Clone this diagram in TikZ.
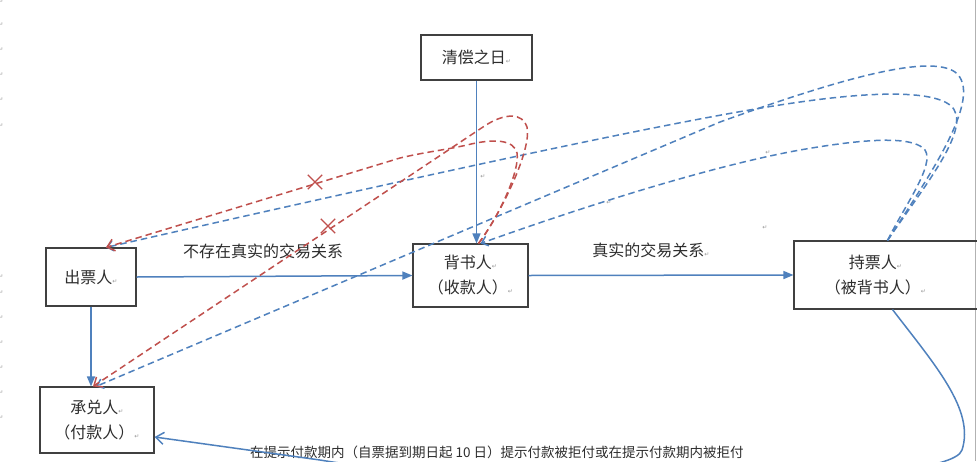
\documentclass[tikz,border=0pt]{standalone}
\usepackage{fontspec}
\setmainfont{Noto Sans CJK SC}
\newfontfamily\dvfont{DejaVu Sans}
\usetikzlibrary{arrows.meta,shapes.misc}
\definecolor{wblue}{RGB}{79,129,189}
\definecolor{wred}{RGB}{192,80,77}
\definecolor{pmgray}{RGB}{150,150,150}
\definecolor{txtgray}{RGB}{45,45,45}
\newcommand{\retmark}{{\dvfont\fontsize{6}{6}\selectfont\color{pmgray}↵}}
\begin{document}
\begin{tikzpicture}[x=1pt,y=-1pt,
  box/.style={draw=black!75, line width=1.1pt, inner sep=0pt, align=center,
    font=\fontsize{16}{25}\selectfont, text=txtgray},
  lbl/.style={font=\fontsize{16}{18}\selectfont, text=txtgray, inner sep=0pt},
  pm/.style={inner sep=0pt, font=\dvfont\fontsize{6}{6}\selectfont, text=pmgray},
  solidarrow/.style={draw=wblue, line width=1.5pt, -{Triangle[length=10pt,width=8pt]}},
  openarrow/.style={draw=wblue, line width=1.5pt, -{Straight Barb[length=8pt,width=12pt]}},
  dashblue/.style={draw=wblue, line width=1.5pt, dash pattern=on 6.5pt off 4pt,
    -{Straight Barb[length=6pt,width=10pt]}},
  dashred/.style={draw=wred, line width=1.5pt, dash pattern=on 6.5pt off 4pt,
    -{Straight Barb[length=7pt,width=12pt]}},
  xmark/.style={draw=wred, cross out, line width=1.3pt, minimum size=13pt, inner sep=0pt}
]
\useasboundingbox (0,0) rectangle (977,461);
\clip (0,0) rectangle (977,461);
\fill[white] (0,0) rectangle (977,461);

% page edge
\draw[black!30, line width=0.8pt] (975,0) -- (975,461);

% boxes
\node[box, minimum width=111pt, minimum height=45pt] (qc) at (476.5,57.5) {清偿之日\retmark};
\node[box, minimum width=90pt, minimum height=58pt] (cp) at (91,277) {出票人\retmark};
\node[box, minimum width=115pt, minimum height=63pt] (bs) at (470.5,275.5) {背书人\retmark\\（收款人）\retmark};
\node[box, minimum width=114pt, minimum height=66pt] (cd) at (97,420) {承兑人\retmark\\（付款人）\retmark};
\node[box, minimum width=191pt, minimum height=68pt, text width=160pt] (cpr) at (889.5,275) {\hspace*{-28pt}持票人\retmark\\\hspace*{-28pt}（被背书人）\retmark};

% labels
\node[lbl] (l1) at (263,251) {不存在真实的交易关系};
\node[lbl] (l2) at (651,250) {真实的交易关系\retmark};
\node[inner sep=0pt, anchor=west, font=\fontsize{13.5}{15}\selectfont, text=txtgray] (bt) at (250,452)
  {在提示付款期内（自票据到期日起 10 日）提示付款被拒付或在提示付款期内被拒付};

% stray paragraph marks
\node[pm] (p1) at (483,177) {↵};
\node[pm] (p2) at (609,203) {↵};
\node[pm] (p3) at (768,153) {↵};
\node[pm] (p4) at (765,228) {↵};
\foreach \yy in {2,25,50,75,100,126,277,293,318,343,368,393,418}
  \node[pm] at (1,\yy) {↵};

% solid connectors
\draw[solidarrow] (qc.south) -- (qc.south |- bs.north);
\draw[solidarrow] (cp.east) -- (bs.west);
\draw[solidarrow] (bs.east) -- (cpr.west);
\draw[solidarrow] (cp.south) -- (cp.south |- cd.north);
\draw[openarrow] ([xshift=3pt]cpr.south) .. controls (935,365) and (975,410) .. (962,450)
  .. controls (950,490) and (500,490) .. (320,460) -- ([yshift=-17pt]cd.east);

% blue dashed from holder
\draw[dashblue] ([xshift=-2pt]cpr.north) .. controls (930,175) and (985,95) .. (955,72)
  .. controls (930,55) and (850,75) .. (720,122) -- ([xshift=-1pt]cd.north);
\draw[dashblue] ([xshift=-2pt]cpr.north) .. controls (925,185) and (975,125) .. (950,105)
  .. controls (930,90) and (870,92) .. (800,102)
  .. controls (700,116) and (500,158) .. ([xshift=15pt]cp.north);
\draw[dashblue] ([xshift=-2pt]cpr.north) .. controls (905,205) and (935,165) .. (925,150)
  .. controls (915,138) and (880,136) .. (800,150)
  .. controls (700,168) and (560,215) .. ([xshift=10pt]bs.north);

% red dashed from endorser
\draw[dashred] ([xshift=8pt]bs.north) .. controls (500,215) and (532,150) .. (527,127)
  .. controls (523,113) and (505,112) .. (483,127) -- ([xshift=-4pt]cd.north);
\draw[dashred] ([xshift=8pt]bs.north) .. controls (500,215) and (520,170) .. (517,153)
  .. controls (514,140) and (495,138) .. (467,145)
  .. controls (445,150) and (425,152) .. (400,158) -- ([xshift=15pt]cp.north);

% cross marks
\node[xmark] (x1) at (315,182) {};
\node[xmark] (x2) at (328,226) {};
\end{tikzpicture}
\end{document}
